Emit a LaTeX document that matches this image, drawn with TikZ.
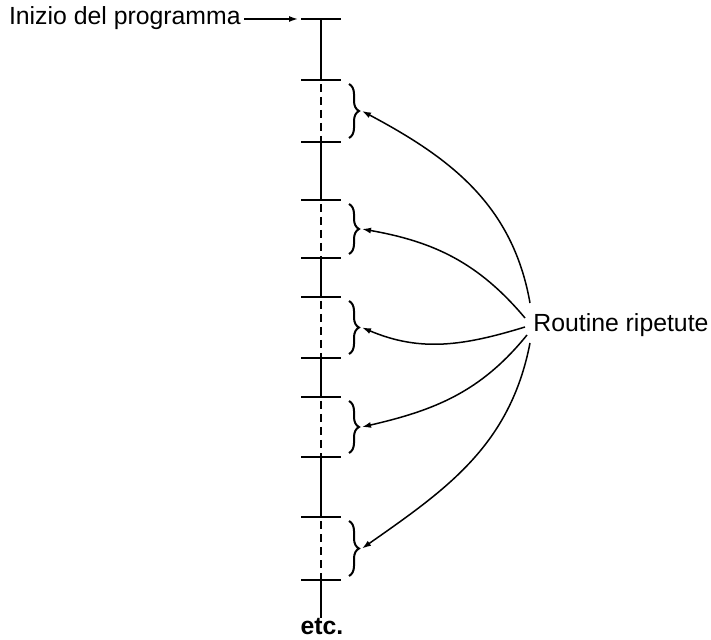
\documentclass[tikz,border=0pt]{standalone}
\usepackage{fontspec}
\setmainfont{Liberation Sans}
\usetikzlibrary{arrows.meta,calc,decorations.pathreplacing}

\begin{document}
\begin{tikzpicture}[x=0.5pt, y=0.5pt,
                    every node/.style={font=\fontsize{12.4}{14}\selectfont, inner sep=0pt},
                    axis/.style={line width=1.3pt},
                    gap/.style={line width=1.3pt, dash pattern=on 4pt off 2.5pt, dash phase=-2pt},
                    rbrace/.style={decorate, decoration={brace, amplitude=5pt}, line width=1pt},
                    call/.style={line width=0.75pt, -{Latex[length=4.5pt, width=3pt]}}]
  \useasboundingbox (0,0) rectangle (711,-640);
  % points where the program line is cut
  \foreach \y [count=\i] in {19,80,142,200,258,297,358,397,457,517,580}
    \coordinate (t\i) at (321,-\y);
  \coordinate (end) at (321,-618);
  \foreach \i in {1,...,11}
    \draw[axis] ([xshift=-10pt]t\i) -- ([xshift=10pt]t\i);
  \foreach \a/\b in {1/2,3/4,5/6,7/8,9/10}
    \draw[axis] (t\a) -- (t\b);
  \draw[axis] (t11) -- (end);
  % repeated parts
  \foreach \a/\b [count=\i] in {2/3,4/5,6/7,8/9,10/11} {
    \draw[gap] (t\a) -- (t\b);
    \draw[rbrace] ([xshift=14pt,yshift=-2pt]t\a) -- ([xshift=14pt,yshift=2pt]t\b);
    \coordinate (b\i) at ([xshift=20.5pt]$(t\a)!0.5!(t\b)$);
  }

  \node[anchor=mid east] (start) at (241,-19) {Inizio del programma};
  \draw[call, shorten <=1.5pt] (start.mid east) -- ([xshift=-11.5pt]t1);

  \node[anchor=mid west] (rout) at (533,-326) {Routine ripetute};
  \coordinate (r1) at (530,-303);
  \coordinate (r2) at (525,-318);
  \coordinate (r3) at (525,-327);
  \coordinate (r4) at (527,-335);
  \coordinate (r5) at (530,-343);
  \draw[call] (r1) to[out=100, in=-28] (b1);
  \draw[call] (r2) to[out=130, in=-10] (b2);
  \draw[call] (r3) to[out=197, in=-23] (b3);
  \draw[call] (r4) to[out=231, in=13] (b4);
  \draw[call] (r5) to[out=259, in=35] (b5);

  \node[anchor=base, font=\fontsize{12.4}{14}\selectfont\bfseries] (etc) at (322,-634) {etc.};
\end{tikzpicture}
\end{document}
